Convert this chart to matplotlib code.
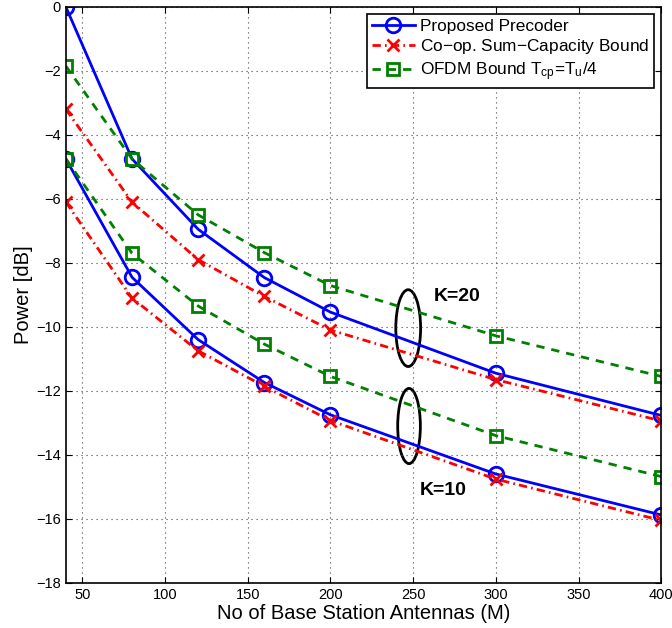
import numpy as np
import matplotlib.pyplot as plt
from matplotlib.patches import Ellipse

# data
antennas = [40, 80, 120, 160, 200, 300, 400]

# K = 20
prop_k20 = [0.0, -4.75, -6.95, -8.46, -9.54, -11.45, -12.77]
coop_k20 = [-3.2, -6.1, -7.9, -9.05, -10.1, -11.65, -12.94]
ofdm_k20 = [-1.85, -4.75, -6.5, -7.68, -8.71, -10.28, -11.55]

# K = 10
prop_k10 = [-4.75, -8.45, -10.4, -11.74, -12.75, -14.6, -15.88]
coop_k10 = [-6.1, -9.1, -10.75, -11.86, -12.93, -14.76, -16.05]
ofdm_k10 = [-4.75, -7.7, -9.35, -10.54, -11.55, -13.4, -14.68]

labels = ['Proposed Precoder', 'Co$-$op. Sum$-$Capacity Bound',
          r'OFDM Bound T$_{cp}$=T$_u$/4']

# graphs
plt.rcParams['font.family'] = ['Liberation Sans', 'DejaVu Sans']
plt.rcParams['mathtext.fontset'] = 'custom'
plt.rcParams['mathtext.rm'] = 'Liberation Sans'
plt.rcParams['mathtext.it'] = 'Liberation Sans'
fontsize = 14.5

fig = plt.figure(figsize=(6.72, 6.28), dpi=100)
ax = fig.add_axes([0.098, 0.072, 0.886, 0.917])

blue = dict(color='#0000ff', linestyle='-', linewidth=2, marker='o', markersize=10.5,
            markerfacecolor='none', markeredgewidth=2)
red = dict(color='#ff0000', linestyle=(0, (3, 1.5, 0.6, 1.5)), linewidth=2, marker='x',
           markersize=8, markeredgewidth=2)
green = dict(color='#008000', linestyle=(0, (3, 2.5)), linewidth=2, marker='s',
             markersize=8, markerfacecolor='none', markeredgewidth=2)

ax.plot(antennas, prop_k20, label=labels[0], **blue)
ax.plot(antennas, coop_k20, label=labels[1], **red)
ax.plot(antennas, ofdm_k20, label=labels[2], **green)
ax.plot(antennas, prop_k10, **blue)
ax.plot(antennas, coop_k10, **red)
ax.plot(antennas, ofdm_k10, **green)

# ellipses and K labels
ax.add_patch(Ellipse((247, -10.04), 15, 2.4, fill=False, color='k', linewidth=2))
ax.add_patch(Ellipse((247.5, -13.1), 13.7, 2.35, fill=False, color='k', linewidth=2))
ax.text(262.5, -9.05, 'K=20', fontsize=14, fontweight='bold', va='center')
ax.text(254, -15.1, 'K=10', fontsize=14, fontweight='bold', va='center')

ax.set_xlim(40, 400)
ax.set_ylim(-18, 0)
ax.set_xticks(np.arange(50, 401, 50))
ax.set_yticks(np.arange(-18, 1, 2))
ax.tick_params(direction='in', top=True, right=True, labelsize=10.5, length=4)
ax.grid(True, linestyle=(0, (1, 3.5)), color='#444444', linewidth=0.8)
for s in ax.spines.values():
    s.set_linewidth(1.2)

ax.set_xlabel('No of Base Station Antennas (M)', fontsize=fontsize, labelpad=1.5)
ax.set_ylabel('Power [dB]', fontsize=fontsize, labelpad=2)

leg = ax.legend(loc='upper right', fontsize=12.4, fancybox=False, edgecolor='k',
                framealpha=1, handlelength=2.5, handletextpad=0.3, labelspacing=0.2,
                borderpad=0.3, borderaxespad=0.4)
leg.get_frame().set_linewidth(1.2)

plt.savefig('out.png', dpi=100)
